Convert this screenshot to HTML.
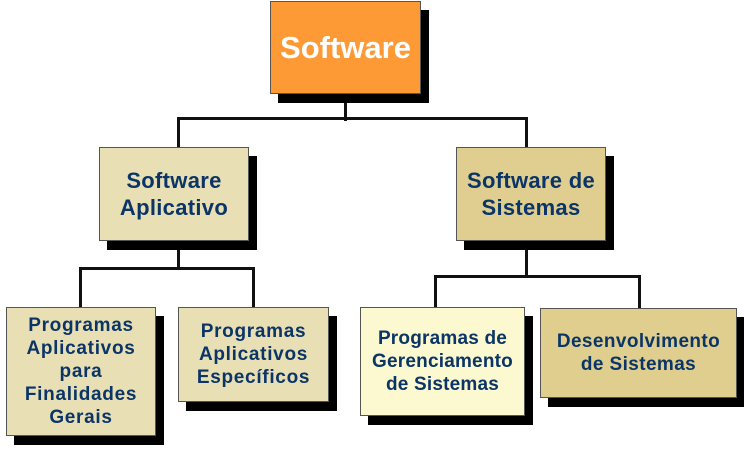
<!DOCTYPE html>
<html><head><meta charset="utf-8"><style>
body{margin:0;width:744px;height:453px;background:#fff;position:relative;overflow:hidden;font-family:"Liberation Sans",Arial,sans-serif;}
.b{position:absolute;box-sizing:border-box;border:1px solid #555;display:flex;align-items:center;justify-content:center;text-align:center;font-weight:bold;color:#0a3566;box-shadow:8px 9px 0 #000;}
.l{position:absolute;background:#111;}
.s{font-size:19px;line-height:23px;letter-spacing:0.7px;}
</style></head><body>
<div class="l" style="left:344px;top:94px;width:3px;height:27px"></div>
<div class="l" style="left:177px;top:117px;width:351px;height:3px"></div>
<div class="l" style="left:177px;top:117px;width:3px;height:31px"></div>
<div class="l" style="left:525px;top:117px;width:3px;height:31px"></div>
<div class="l" style="left:177px;top:241px;width:3px;height:28px"></div>
<div class="l" style="left:79px;top:267px;width:176px;height:3px"></div>
<div class="l" style="left:79px;top:267px;width:3px;height:41px"></div>
<div class="l" style="left:252px;top:267px;width:3px;height:41px"></div>
<div class="l" style="left:525px;top:249px;width:3px;height:28px"></div>
<div class="l" style="left:434px;top:275px;width:206px;height:3px"></div>
<div class="l" style="left:434px;top:275px;width:3px;height:33px"></div>
<div class="l" style="left:638px;top:275px;width:3px;height:34px"></div>

<div class="b" style="left:270px;top:1px;width:151px;height:93px;background:#fd9a35;color:#fff;font-size:31px;">Software</div>
<div class="b" style="left:99px;top:147px;width:150px;height:94px;background:#e8dfb5;font-size:22px;line-height:27px;letter-spacing:0.3px;">Software<br>Aplicativo</div>
<div class="b" style="left:456px;top:147px;width:150px;height:94px;background:#dfce90;font-size:22px;line-height:27px;letter-spacing:0.3px;">Software de<br>Sistemas</div>
<div class="b s" style="left:6px;top:307px;width:150px;height:129px;background:#e8dfb5;">Programas<br>Aplicativos<br>para<br>Finalidades<br>Gerais</div>
<div class="b s" style="left:178px;top:307px;width:151px;height:95px;background:#e8dfb5;">Programas<br>Aplicativos<br>Específicos</div>
<div class="b s" style="left:360px;top:307px;width:165px;height:109px;background:#fcf8cf;letter-spacing:0.2px;">Programas de<br>Gerenciamento<br>de Sistemas</div>
<div class="b s" style="left:540px;top:308px;width:197px;height:90px;background:#dfce8e;letter-spacing:0.4px;">Desenvolvimento<br>de Sistemas</div>
</body></html>
